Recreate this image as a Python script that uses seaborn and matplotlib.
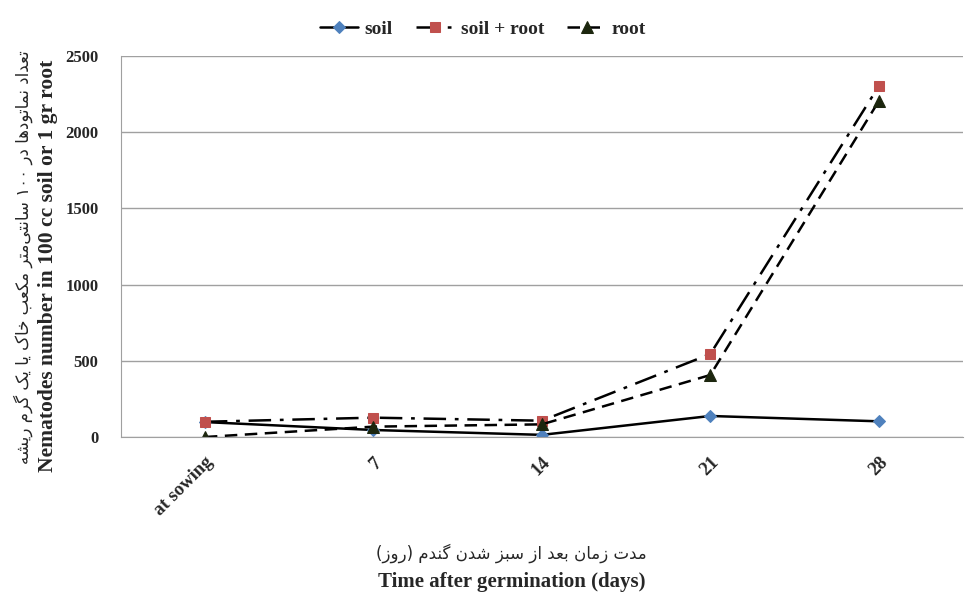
import numpy as np
import pandas as pd
import matplotlib
matplotlib.use('Agg')
import matplotlib.pyplot as plt
import seaborn as sns

# 数据
days = ['at sowing', '7', '14', '21', '28']
soil = [98, 46, 14, 138, 103]
soil_root = [100, 127, 107, 545, 2303]
root = [0, 68, 83, 407, 2205]

fa_ylabel = 'تعداد نماتودها در ۱۰۰ سانتی‌متر مکعب خاک یا یک گرم ریشه'
fa_xlabel = 'مدت زمان بعد از سبز شدن گندم (روز)'
en_ylabel = 'Nematodes number in 100 cc soil or 1 gr root'
en_xlabel = 'Time after germination (days)'

# 简单的波斯文字形处理 (isolated, final, initial, medial)
FORMS = {
    'ا': ('\uFE8D', '\uFE8E', None, None),
    'د': ('\uFEA9', '\uFEAA', None, None),
    'ر': ('\uFEAD', '\uFEAE', None, None),
    'ز': ('\uFEAF', '\uFEB0', None, None),
    'و': ('\uFEED', '\uFEEE', None, None),
    'ب': ('\uFE8F', '\uFE90', '\uFE91', '\uFE92'),
    'ت': ('\uFE95', '\uFE96', '\uFE97', '\uFE98'),
    'خ': ('\uFEA5', '\uFEA6', '\uFEA7', '\uFEA8'),
    'س': ('\uFEB1', '\uFEB2', '\uFEB3', '\uFEB4'),
    'ش': ('\uFEB5', '\uFEB6', '\uFEB7', '\uFEB8'),
    'ع': ('\uFEC9', '\uFECA', '\uFECB', '\uFECC'),
    'م': ('\uFEE1', '\uFEE2', '\uFEE3', '\uFEE4'),
    'ن': ('\uFEE5', '\uFEE6', '\uFEE7', '\uFEE8'),
    'ه': ('\uFEE9', '\uFEEA', '\uFEEB', '\uFEEC'),
    'ک': ('\uFB8E', '\uFB8F', '\uFB90', '\uFB91'),
    'گ': ('\uFB92', '\uFB93', '\uFB94', '\uFB95'),
    'ی': ('\uFBFC', '\uFBFD', '\uFBFE', '\uFBFF'),
}


def shape_fa(text):
    out = []
    n = len(text)
    for i, ch in enumerate(text):
        if ch == '\u200c':
            continue
        if ch not in FORMS:
            out.append(ch)
            continue
        prev = text[i - 1] if i > 0 else ''
        nxt = text[i + 1] if i + 1 < n else ''
        join_prev = prev in FORMS and FORMS[prev][2] is not None
        join_next = FORMS[ch][2] is not None and nxt in FORMS
        iso, fin, ini, med = FORMS[ch]
        if join_prev and join_next:
            out.append(med)
        elif join_prev:
            out.append(fin)
        elif join_next:
            out.append(ini)
        else:
            out.append(iso)
    vis = ''.join(reversed(out))
    vis = vis.translate(str.maketrans('()', ')('))
    # 数字保持从左到右
    res, run = [], ''
    for ch in vis:
        if ch.isdigit():
            run += ch
        else:
            if run:
                res.append(run[::-1])
                run = ''
            res.append(ch)
    if run:
        res.append(run[::-1])
    return ''.join(res)


sns.set_style('white')
plt.rcParams['font.family'] = ['Liberation Serif', 'DejaVu Serif']

fig = plt.figure(figsize=(9.65, 5.97), dpi=100)
ax = fig.add_axes([0.125, 0.268, 0.873, 0.638])

x = np.arange(len(days))
series = [
    ('soil', soil, '-', 'D', '#4F81BD', 6),
    ('soil + root', soil_root, (0, (9, 3.5, 1.5, 3.5)), 's', '#C0504D', 7.5),
    ('root', root, (0, (5, 3)), '^', '#1C260E', 8),
]
for name, vals, ls, mk, mc, ms in series:
    df = pd.DataFrame({'x': x, 'y': vals})
    sns.lineplot(data=df, x='x', y='y', ax=ax, color='black', linewidth=1.8,
                 linestyle=ls, marker=mk, markersize=ms, markerfacecolor=mc,
                 markeredgecolor=mc, label=name)

ax.set_xlim(-0.5, len(days) - 0.5)
ax.set_ylim(0, 2500)
ax.set_yticks(np.arange(0, 2501, 500))
ax.yaxis.grid(True, color='#a0a0a0', linewidth=1)
ax.set_axisbelow(True)
ax.set_xticks(x)
ax.set_xticklabels(days, rotation=45, ha='right', rotation_mode='anchor',
                   fontweight='bold', fontsize=13.5)
for lab in ax.get_yticklabels():
    lab.set_fontweight('bold')
    lab.set_fontsize(12)
ax.tick_params(axis='x', length=0, pad=12)
ax.tick_params(axis='y', length=0, pad=16)
for s in ['top', 'right']:
    ax.spines[s].set_visible(False)
for s in ['left', 'bottom']:
    ax.spines[s].set_color('#a0a0a0')
ax.set_xlabel('')
ax.set_ylabel('')

# 坐标轴标题
fig.text(0.024, 0.57, shape_fa(fa_ylabel), rotation=90, ha='center', va='center',
         fontsize=12, family=['DejaVu Sans'])
fig.text(0.05, 0.555, en_ylabel, rotation=90, ha='center', va='center',
         fontsize=15.5, fontweight='bold')
fig.text(0.53, 0.073, shape_fa(fa_xlabel), ha='center', va='center',
         fontsize=12, family=['DejaVu Sans'])
fig.text(0.53, 0.025, en_xlabel, ha='center', va='center',
         fontsize=15, fontweight='bold')

leg = ax.legend(loc='upper center', bbox_to_anchor=(0.43, 1.14), ncol=3,
                frameon=False, handlelength=2.0, columnspacing=1.2,
                handletextpad=0.3, prop={'weight': 'bold', 'size': 14})

fig.savefig('out.png', dpi=100)
